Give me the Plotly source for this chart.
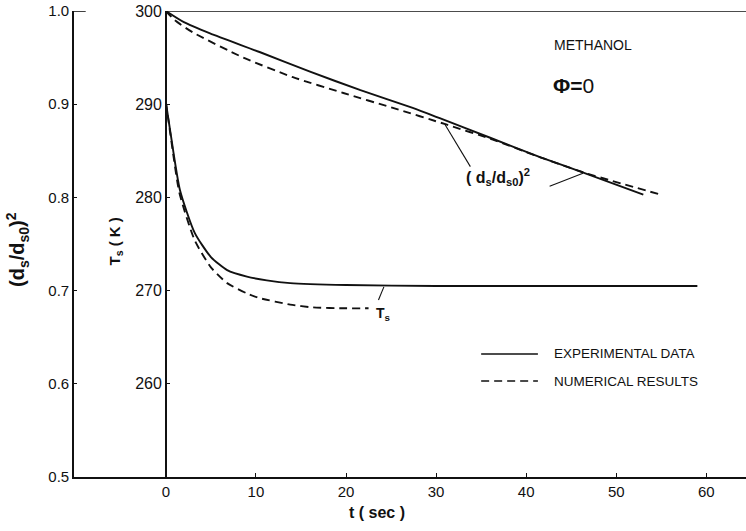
import plotly.graph_objects as go

# ---- data ----
t_d2_exp = [0, 2, 4.9, 10.4, 16, 21.6, 27.4, 30.4, 36, 41.6, 47.1, 53]
d2_exp = [1.0, 0.988, 0.976, 0.956, 0.935, 0.915, 0.896, 0.885, 0.864, 0.843, 0.824, 0.803]

t_d2_num = [0, 1, 3, 8.6, 14.1, 19.7, 25.2, 31.2, 36.3, 41, 46.3, 54.9]
d2_num = [1.0, 0.99, 0.977, 0.950, 0.929, 0.912, 0.896, 0.878, 0.862, 0.845, 0.827, 0.803]

t_T_exp = [0, 0.5, 1.56, 3.2, 5, 6.8, 9, 11.2, 13.8, 20, 30, 40, 50, 59]
T_exp = [290.2, 287.0, 280.8, 276.2, 273.6, 272.2, 271.5, 271.1, 270.8, 270.6, 270.5, 270.5, 270.5, 270.5]

t_T_num = [0, 0.5, 1.5, 3.2, 5, 6.8, 9, 10.4, 13.8, 16.3, 20, 22.5]
T_num = [290.2, 286.8, 280.5, 275.4, 272.5, 270.8, 269.7, 269.2, 268.5, 268.2, 268.1, 268.1]

x_ticks = [0, 10, 20, 30, 40, 50, 60]
d2_ticks = [0.5, 0.6, 0.7, 0.8, 0.9, 1.0]
d2_ticktext = ["0.5", "0.6", "0.7", "0.8", "0.9", "1.0"]
T_ticks = [260, 270, 280, 290, 300]

FONT = "Liberation Sans, Arial, sans-serif"
BLACK = "#111111"

fig = go.Figure()

line_w = 1.9
fig.add_trace(go.Scatter(x=t_d2_exp, y=d2_exp, mode="lines", yaxis="y",
                         line=dict(color=BLACK, width=line_w, shape="spline", smoothing=0.6),
                         showlegend=False))
fig.add_trace(go.Scatter(x=t_d2_num, y=d2_num, mode="lines", yaxis="y",
                         line=dict(color=BLACK, width=line_w, dash="8px,5px", shape="spline", smoothing=0.6),
                         showlegend=False))
fig.add_trace(go.Scatter(x=t_T_exp, y=T_exp, mode="lines", yaxis="y2",
                         line=dict(color=BLACK, width=line_w, shape="spline", smoothing=0.6),
                         showlegend=False))
fig.add_trace(go.Scatter(x=t_T_num, y=T_num, mode="lines", yaxis="y2",
                         line=dict(color=BLACK, width=line_w, dash="8px,5px", shape="spline", smoothing=0.6),
                         showlegend=False))

x_lo, x_hi = -10.2, 64.4
fig.update_layout(
    width=746, height=531,
    margin=dict(l=74, r=0, t=11, b=54),
    paper_bgcolor="white", plot_bgcolor="white",
    font=dict(family=FONT, size=15, color=BLACK),
    xaxis=dict(range=[x_lo, x_hi], tickvals=x_ticks, ticks="inside", ticklen=4,
               tickwidth=1.2, tickcolor=BLACK, showline=True, linecolor=BLACK, linewidth=1.6,
               showgrid=False, zeroline=False, tickfont=dict(size=15)),
    yaxis=dict(range=[0.5, 1.0], tickvals=d2_ticks, ticktext=d2_ticktext, ticks="inside",
               ticklen=3, tickwidth=1.2, tickcolor=BLACK, showline=True, linecolor=BLACK,
               linewidth=1.6, showgrid=False, zeroline=False, tickfont=dict(size=15)),
    yaxis2=dict(range=[250, 300], tickvals=T_ticks, overlaying="y", anchor="free",
                position=(0 - x_lo) / (x_hi - x_lo), side="left", ticks="inside", ticklen=3,
                tickwidth=1.2, tickcolor=BLACK, showline=True, linecolor=BLACK, linewidth=1.6,
                showgrid=False, zeroline=False, tickfont=dict(size=16)),
)

# top border line from t=0 to right, and top tick of left axis
fig.add_shape(type="line", xref="x", yref="y", x0=0, x1=x_hi, y0=1.0, y1=1.0,
              line=dict(color=BLACK, width=1.6))
fig.add_shape(type="line", xref="x", yref="y", x0=x_lo, x1=x_lo + 1.3, y0=1.0, y1=1.0,
              line=dict(color=BLACK, width=1.6))

# axis titles
fig.add_annotation(text="<b>(d<sub>s</sub>/d<sub>s0</sub>)<sup>2</sup></b>", xref="paper", yref="paper",
                   x=(17 - 74) / 672, y=(477 - 250) / 466, xanchor="center", yanchor="middle",
                   textangle=-90, showarrow=False, font=dict(size=20))
fig.add_annotation(text="<b>T<sub>s</sub> ( K )</b>", xref="paper", yref="paper",
                   x=(103 - 74) / 672, y=(477 - 242) / 466, textangle=-90, showarrow=False,
                   font=dict(size=15))
fig.add_annotation(text="<b>t ( sec )</b>", xref="x", yref="paper", x=23.4, y=(477 - 512) / 466,
                   yanchor="middle", showarrow=False, font=dict(size=16))

# in-plot texts
fig.add_annotation(text="METHANOL", xref="x", yref="y", x=42.9, y=0.964, xanchor="left",
                   showarrow=False, font=dict(size=14))
fig.add_annotation(text="<b>Φ=</b>0", xref="x", yref="y", x=42.7, y=0.920, xanchor="left",
                   showarrow=False, font=dict(size=21))
fig.add_annotation(text="<b>( d<sub>s</sub>/d<sub>s0</sub>)<sup>2</sup></b>", xref="x", yref="y",
                   x=36.9, y=0.822, showarrow=False, font=dict(size=16))
fig.add_annotation(text="<b>T<sub>s</sub></b>", xref="x", yref="y2", x=24.2, y=267.5,
                   showarrow=False, font=dict(size=14))

# leader lines
fig.add_shape(type="line", xref="x", yref="y", x0=33.8, y0=0.833, x1=31.0, y1=0.878,
              line=dict(color=BLACK, width=1.1))
fig.add_shape(type="line", xref="x", yref="y", x0=42.6, y0=0.812, x1=46.3, y1=0.826,
              line=dict(color=BLACK, width=1.1))
fig.add_shape(type="line", xref="x", yref="y2", x0=23.6, y0=269.0, x1=24.2, y1=270.4,
              line=dict(color=BLACK, width=1.1))

# legend (drawn)
leg_y1, leg_y2 = 0.632, 0.603
fig.add_shape(type="line", xref="x", yref="y", x0=35.0, x1=41.3, y0=leg_y1, y1=leg_y1,
              line=dict(color=BLACK, width=1.4))
fig.add_shape(type="line", xref="x", yref="y", x0=35.0, x1=41.3, y0=leg_y2, y1=leg_y2,
              line=dict(color=BLACK, width=1.4, dash="8px,5px"))
fig.add_annotation(text="EXPERIMENTAL DATA", xref="x", yref="y", x=42.9, y=leg_y1,
                   xanchor="left", showarrow=False, font=dict(size=13.5))
fig.add_annotation(text="NUMERICAL RESULTS", xref="x", yref="y", x=42.9, y=leg_y2,
                   xanchor="left", showarrow=False, font=dict(size=13.5))

fig.write_html("out.html")
